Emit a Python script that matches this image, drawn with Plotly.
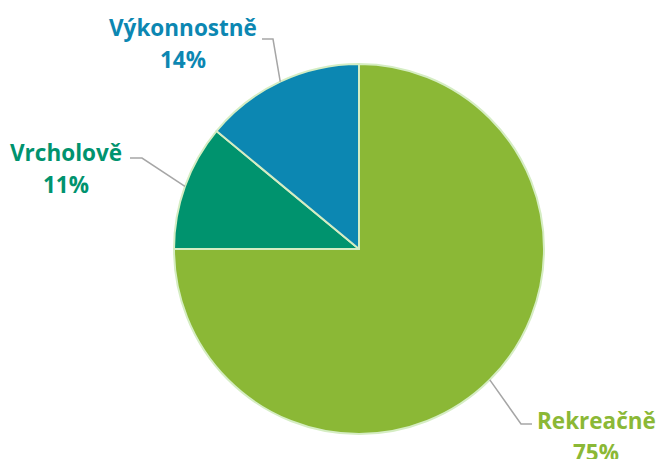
import math
import plotly.graph_objects as go

categories = ["Rekreačně", "Vrcholově", "Výkonnostně"]
values = [75, 11, 14]
colors = ["#8BB836", "#00936E", "#0C87B2"]

W, H = 656, 459
CX, CY, R = 359, 249, 185  # pixel centre / radius of the pie

fig = go.Figure(go.Pie(
    labels=categories, values=values, sort=False, direction="clockwise", rotation=0,
    marker=dict(colors=colors, line=dict(color="#D5EDC3", width=2)),
    textinfo="none", hoverinfo="label+percent", showlegend=False,
    domain=dict(x=[(CX - R) / W, (CX + R) / W], y=[(H - CY - R) / H, (H - CY + R) / H]),
))

# label layout: (text centre x, line1 y, line2 y, elbow point, line end point)
label_layout = {
    "Výkonnostně": dict(x=183, y1=27, y2=59, elbow=(273, 39), end=(262, 39)),
    "Vrcholově": dict(x=66, y1=152, y2=184, elbow=(142, 158), end=(130, 158)),
    "Rekreačně": dict(x=596, y1=420, y2=452, elbow=(521, 424), end=(532, 424)),
}

def px(x):
    return x / W

def py(y):
    return 1 - y / H

total = sum(values)
cum = 0
annotations = []
shapes = []
for cat, val, col in zip(categories, values, colors):
    mid = (cum + val / 2) / total * 2 * math.pi
    cum += val
    sx = CX + R * math.sin(mid)
    sy = CY - R * math.cos(mid)
    L = label_layout[cat]
    pct = f"{round(val / total * 100)}%"
    for txt, yy in ((cat, L["y1"]), (pct, L["y2"])):
        annotations.append(dict(
            x=px(L["x"]), y=py(yy), xref="paper", yref="paper", text=f"<b>{txt}</b>",
            showarrow=False, xanchor="center", yanchor="middle",
            font=dict(family="Open Sans", size=22.5, color=col),
        ))
    ex, ey = L["elbow"]
    fx, fy = L["end"]
    shapes.append(dict(type="path", xref="paper", yref="paper",
                       path=f"M {px(sx)},{py(sy)} L {px(ex)},{py(ey)} L {px(fx)},{py(fy)}",
                       line=dict(color="#A6A6A6", width=1.5)))

fig.update_layout(
    width=W, height=H, margin=dict(l=0, r=0, t=0, b=0),
    paper_bgcolor="white", plot_bgcolor="white",
    annotations=annotations, shapes=shapes,
)
fig.write_html("out.html", config={"displayModeBar": False},
               post_script="document.body.style.margin='0';")
